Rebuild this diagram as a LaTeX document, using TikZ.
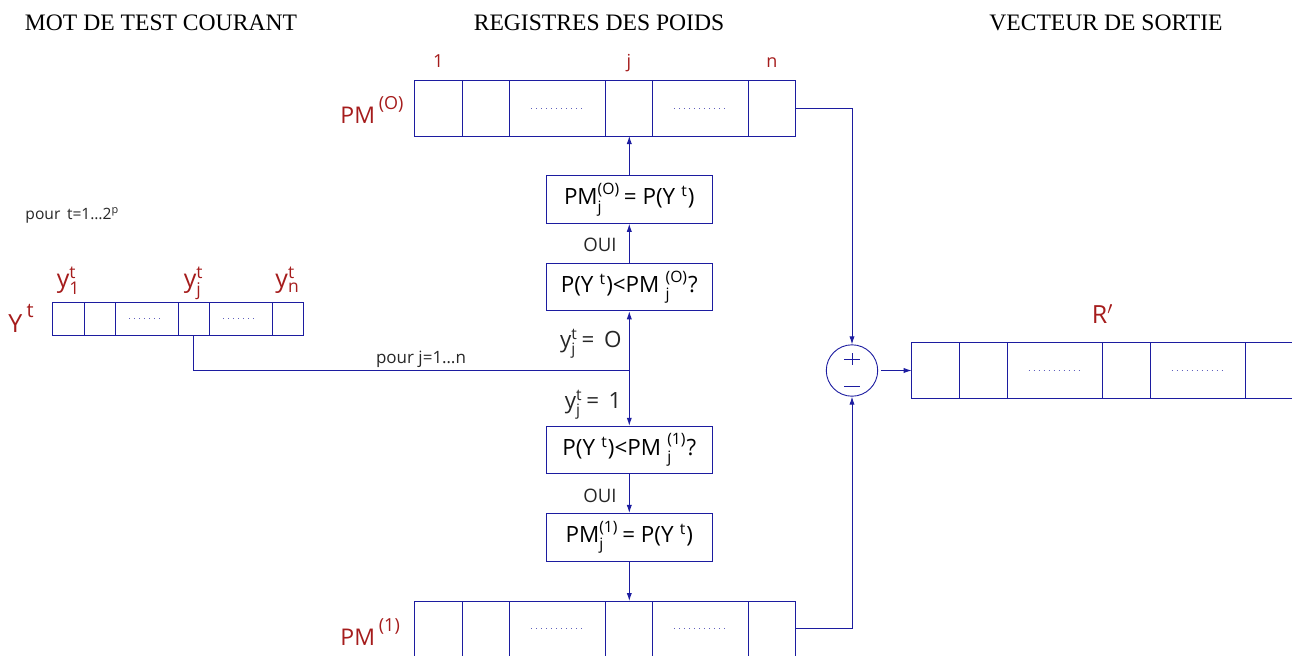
\documentclass[tikz,border=0pt]{standalone}
\usepackage{amsmath}
\usepackage{fontspec}
\setmainfont{Open Sans}
\newfontfamily\titlefont{Liberation Serif}
\usetikzlibrary{arrows.meta,calc}
\definecolor{regblue}{RGB}{28,28,160}
\definecolor{lblred}{RGB}{165,28,28}

\begin{document}
\begin{tikzpicture}[x=0.5pt,y=-0.5pt,line width=0.45pt,
  wire/.style={draw=regblue,-{Latex[length=4pt,width=2.6pt]}},
  reg/.style={draw=regblue,anchor=north west,inner sep=0pt,outer sep=0pt},
  celldots/.style={draw=regblue!70,line width=0.5pt,dash pattern=on 0.5pt off 2pt},
  testbox/.style={draw=regblue,minimum width=83.3pt,minimum height=23.8pt,
                  inner sep=0pt,font=\fontsize{11.2}{12}\selectfont},
  heading/.style={anchor=base,font=\titlefont\fontsize{11.8}{13}\selectfont},
  redlbl/.style={text=lblred,inner sep=0pt},
  note/.style={inner sep=0pt,text=black!85}]
\useasboundingbox (0,0) rectangle (1292,655);
% ---- column headings ----
\node[heading] (hmot) at (161,30) {MOT DE TEST COURANT};
\node[heading] (hreg) at (599,30) {REGISTRES DES POIDS};
\node[heading] (hvec) at (1106,30) {VECTEUR DE SORTIE};
% ---- registers: PM(0), PM(1), R', Y^t ----
\foreach \nm/\x/\y/\u/\h in {
  pmo/414.3/80.7/47.7/55.3, pmi/414.3/601/47.7/55.3,
  rout/911.7/342.7/47.7/55.6, yt/52.7/302.7/31.33/32.3%
}{
  \node[reg,minimum width={4pt*\u},minimum height={0.5pt*\h}] (\nm) at (\x,\y) {};
  \foreach \d in {1,2,4,5,7} \draw[regblue] (\x+\d*\u,\y) -- ++(0,\h);
  \foreach \d in {3,6} \draw[celldots] (\x+\d*\u-0.55*\u,\y+0.5*\h) -- ++(1.1*\u,0);
}
% ---- register labels ----
\node[redlbl,anchor=base west,font=\fontsize{11.5}{12}\selectfont] (lpmo) at (340,123)
  {PM\,\raisebox{1.1ex}{\fontsize{9}{9}\selectfont (O)}};
\node[redlbl,anchor=base west,font=\fontsize{11.5}{12}\selectfont] (lpmi) at (340,645)
  {PM\,\raisebox{1.1ex}{\fontsize{9}{9}\selectfont (1)}};
\node[redlbl,anchor=base,font=\fontsize{12.5}{13}\selectfont] (lrout) at (1102.7,323) {R$'$};
\node[redlbl,anchor=base west,font=\fontsize{12.5}{13}\selectfont] (lyt) at (8,332)
  {Y\,\raisebox{1.1ex}{\fontsize{10}{10}\selectfont t}};
\foreach \x/\i/\s in {438.2/one/1, 629/j/j, 772/n/n}
  \node[redlbl,anchor=base,font=\fontsize{9}{10}\selectfont] (col\i) at (\x,67) {\s};
\foreach \x/\i/\s in {68.7/one/1, 193.7/j/j, 287.6/n/n}
  \node[redlbl,anchor=base,font=\fontsize{12.5}{13}\selectfont] (bit\i) at (\x,287)
    {y$_{\text{\s}}^{\text{t}}$};
\node[note,anchor=base west,font=\fontsize{7.8}{9}\selectfont] (tloop) at (25,219)
  {pour\, t=1…2$^{\text{p}}$};
% ---- test / update boxes ----
\node[testbox] (seto) at (629.3,199.5) {PM$_{\text{j}}^{\text{(O)}}$\,= P(Y\;$^{\text{t}}$)};
\node[testbox] (testo) at (629.3,287) {P(Y\;$^{\text{t}}$)<PM\;$_{\text{j}}^{\text{(O)}}$?};
\node[testbox] (testi) at (629.3,450) {P(Y\;$^{\text{t}}$)<PM\;$_{\text{j}}^{\text{(1)}}$?};
\node[testbox] (seti) at (629.3,537.2) {PM$_{\text{j}}^{\text{(1)}}$\,= P(Y\;$^{\text{t}}$)};
\coordinate (fork) at (629.3,370.7);
\node[note,anchor=east,font=\fontsize{9.3}{10}\selectfont] (ouio) at (617,245) {OUI};
\node[note,anchor=east,font=\fontsize{9.3}{10}\selectfont] (ouii) at (617,496) {OUI};
\node[note,anchor=base east,font=\fontsize{11.2}{12}\selectfont] (bito) at (622,347)
  {y$_{\text{j}}^{\text{t}}$\,= \,O};
\node[note,anchor=base east,font=\fontsize{11.2}{12}\selectfont] (biti) at (622,408)
  {y$_{\text{j}}^{\text{t}}$\,= \,1};
\node[note,anchor=base,font=\fontsize{8.5}{10}\selectfont] (jloop) at (421,363)
  {pour j=1…n};
% ---- wiring ----
\draw[regblue] ($(yt.south west)!0.5625!(yt.south east)$) |- (fork);
\draw[wire] (fork) -- (testo);
\draw[wire] (testo) -- (seto);
\draw[wire] (seto) -- (seto.north |- pmo.south);
\draw[wire] (fork) -- (testi);
\draw[wire] (testi) -- (seti);
\draw[wire] (seti) -- (seti.south |- pmi.north);
% ---- adder and output ----
\node[draw=regblue,circle,minimum size=25.7pt,inner sep=0pt] (sum) at (852,370.5) {};
\draw[regblue] ($(sum)+(-8,-11.5)$) -- ++(16,0) ($(sum)+(0,-17.5)$) -- ++(0,12);
\draw[regblue] ($(sum)+(-8,16.2)$) -- ++(16,0);
\draw[wire] (pmo.east) -| (sum.north);
\draw[wire] (pmi.east) -| (sum.south);
\draw[wire,shorten <=1.5pt] (sum.east) -- (rout.west);
\end{tikzpicture}
\end{document}
